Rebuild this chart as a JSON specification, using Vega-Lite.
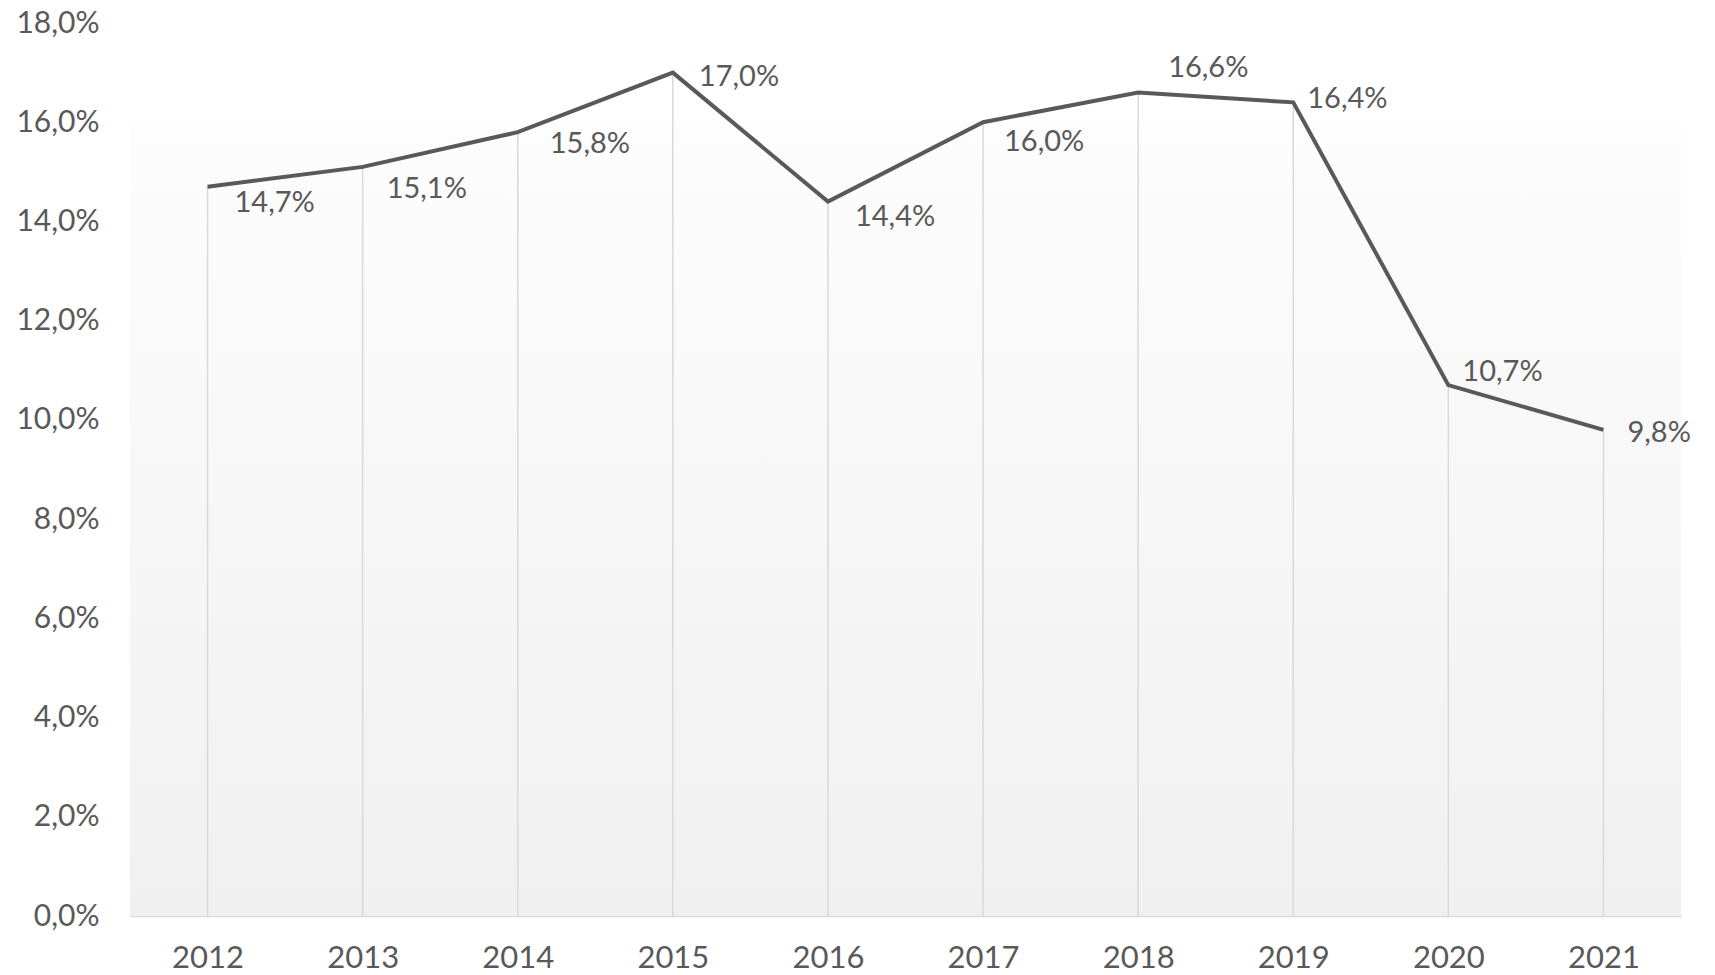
{
  "$schema": "https://vega.github.io/schema/vega-lite/v6.json",
  "width": 1551,
  "height": 893,
  "autosize": {"type": "none"},
  "padding": {"left": 130, "top": 23, "right": 34, "bottom": 59},
  "background": "white",
  "config": {
    "view": {"stroke": null},
    "font": "Lato",
    "locale": {"number": {"decimal": ",", "thousands": ".", "grouping": [3], "currency": ["", " €"], "percent": "%"}}
  },
  "data": {
    "values": [
      {"year": "2012", "value": 0.147},
      {"year": "2013", "value": 0.151},
      {"year": "2014", "value": 0.158},
      {"year": "2015", "value": 0.170},
      {"year": "2016", "value": 0.144},
      {"year": "2017", "value": 0.160},
      {"year": "2018", "value": 0.166},
      {"year": "2019", "value": 0.164},
      {"year": "2020", "value": 0.107},
      {"year": "2021", "value": 0.098}
    ]
  },
  "encoding": {
    "y": {
      "field": "value",
      "type": "quantitative",
      "scale": {"domain": [0, 0.18], "nice": false, "zero": true},
      "axis": {
        "title": null,
        "values": [0, 0.02, 0.04, 0.06, 0.08, 0.1, 0.12, 0.14, 0.16, 0.18],
        "format": ".1%",
        "domain": false,
        "ticks": false,
        "grid": false,
        "labelFont": "Lato",
        "labelFontSize": 30,
        "labelColor": "#595959",
        "labelPadding": 31,
        "labelBaseline": "middle"
      }
    }
  },
  "layer": [
    {
      "mark": {
        "type": "rect",
        "color": {
          "gradient": "linear",
          "x1": 0, "y1": 0, "x2": 0, "y2": 1,
          "stops": [
            {"offset": 0, "color": "#fdfdfd"},
            {"offset": 1, "color": "#f0f0f0"}
          ]
        }
      },
      "encoding": {
        "y": {"datum": 0.16, "type": "quantitative"},
        "y2": {"datum": 0}
      }
    },
    {
      "mark": {"type": "rule", "color": "#d9d9d9", "strokeWidth": 1.5},
      "encoding": {
        "x": {"field": "year", "type": "ordinal", "scale": {"type": "point", "padding": 0.5}},
        "y2": {"datum": 0}
      }
    },
    {
      "mark": {"type": "line", "color": "#595959", "strokeWidth": 4, "strokeJoin": "miter"},
      "encoding": {
        "x": {
          "field": "year",
          "type": "ordinal",
          "scale": {"type": "point", "padding": 0.5},
          "axis": {
            "title": null,
            "labelAngle": 0,
            "labelAlign": "center",
            "labelBaseline": "top",
            "ticks": false,
            "grid": false,
            "domain": true,
            "domainColor": "#d9d9d9",
            "domainWidth": 1.5,
            "labelFont": "Lato",
            "labelFontSize": 31,
            "labelColor": "#595959",
            "labelPadding": 27
          }
        }
      }
    },
    {
      "transform": [{"filter": "datum.year == '2012'"}],
      "mark": {"type": "text", "align": "left", "baseline": "middle", "dx": 27, "dy": 16, "fontSize": 29, "color": "#595959", "font": "Lato"},
      "encoding": {"x": {"field": "year", "type": "ordinal"}, "text": {"field": "value", "format": ".1%"}}
    },
    {
      "transform": [{"filter": "datum.year == '2013'"}],
      "mark": {"type": "text", "align": "left", "baseline": "middle", "dx": 24, "dy": 22, "fontSize": 29, "color": "#595959", "font": "Lato"},
      "encoding": {"x": {"field": "year", "type": "ordinal"}, "text": {"field": "value", "format": ".1%"}}
    },
    {
      "transform": [{"filter": "datum.year == '2014'"}],
      "mark": {"type": "text", "align": "left", "baseline": "middle", "dx": 32, "dy": 12, "fontSize": 29, "color": "#595959", "font": "Lato"},
      "encoding": {"x": {"field": "year", "type": "ordinal"}, "text": {"field": "value", "format": ".1%"}}
    },
    {
      "transform": [{"filter": "datum.year == '2015'"}],
      "mark": {"type": "text", "align": "left", "baseline": "middle", "dx": 26, "dy": 4, "fontSize": 29, "color": "#595959", "font": "Lato"},
      "encoding": {"x": {"field": "year", "type": "ordinal"}, "text": {"field": "value", "format": ".1%"}}
    },
    {
      "transform": [{"filter": "datum.year == '2016'"}],
      "mark": {"type": "text", "align": "left", "baseline": "middle", "dx": 27, "dy": 15, "fontSize": 29, "color": "#595959", "font": "Lato"},
      "encoding": {"x": {"field": "year", "type": "ordinal"}, "text": {"field": "value", "format": ".1%"}}
    },
    {
      "transform": [{"filter": "datum.year == '2017'"}],
      "mark": {"type": "text", "align": "left", "baseline": "middle", "dx": 21, "dy": 20, "fontSize": 29, "color": "#595959", "font": "Lato"},
      "encoding": {"x": {"field": "year", "type": "ordinal"}, "text": {"field": "value", "format": ".1%"}}
    },
    {
      "transform": [{"filter": "datum.year == '2018'"}],
      "mark": {"type": "text", "align": "left", "baseline": "middle", "dx": 30, "dy": -24, "fontSize": 29, "color": "#595959", "font": "Lato"},
      "encoding": {"x": {"field": "year", "type": "ordinal"}, "text": {"field": "value", "format": ".1%"}}
    },
    {
      "transform": [{"filter": "datum.year == '2019'"}],
      "mark": {"type": "text", "align": "left", "baseline": "middle", "dx": 14, "dy": -3, "fontSize": 29, "color": "#595959", "font": "Lato"},
      "encoding": {"x": {"field": "year", "type": "ordinal"}, "text": {"field": "value", "format": ".1%"}}
    },
    {
      "transform": [{"filter": "datum.year == '2020'"}],
      "mark": {"type": "text", "align": "left", "baseline": "middle", "dx": 14, "dy": -13, "fontSize": 29, "color": "#595959", "font": "Lato"},
      "encoding": {"x": {"field": "year", "type": "ordinal"}, "text": {"field": "value", "format": ".1%"}}
    },
    {
      "transform": [{"filter": "datum.year == '2021'"}],
      "mark": {"type": "text", "align": "left", "baseline": "middle", "dx": 24, "dy": 3, "fontSize": 29, "color": "#595959", "font": "Lato"},
      "encoding": {"x": {"field": "year", "type": "ordinal"}, "text": {"field": "value", "format": ".1%"}}
    }
  ]
}
